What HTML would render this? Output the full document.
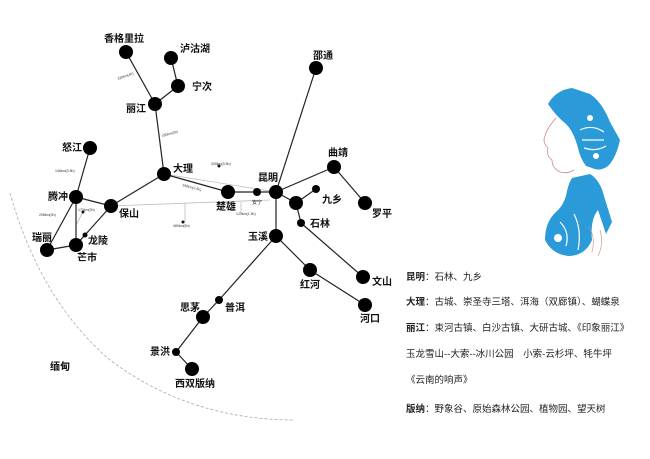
<!DOCTYPE html>
<html><head><meta charset="utf-8"><style>
html,body{margin:0;padding:0;background:#fff;}
svg{display:block;}
text{font-family:"Liberation Sans","Noto Sans CJK SC",sans-serif;}
.l{font-size:10px;fill:#111;font-weight:bold;}
.s{font-size:3.5px;fill:#333;}
.t{font-size:9.5px;fill:#222;}
</style></head><body>
<svg width="650" height="459" viewBox="0 0 650 459" xmlns="http://www.w3.org/2000/svg">
<rect width="650" height="459" fill="#fff"/>
<path d="M10,193 Q40,300 110,360 Q190,420 295,420" fill="none" stroke="#aaa" stroke-width="0.8" stroke-dasharray="3,2"/>
<g stroke="#bbb" stroke-width="0.8" fill="none">
<line x1="164" y1="174" x2="276" y2="192"/>
<line x1="111" y1="206" x2="270" y2="200"/>
<line x1="185" y1="203" x2="185" y2="222"/>
<line x1="241" y1="202" x2="241" y2="213"/>
<line x1="76" y1="225" x2="83" y2="212"/>
</g>
<g fill="#111">
<circle cx="219" cy="166" r="1.5"/><circle cx="183" cy="222" r="1.5"/><circle cx="83" cy="212" r="1.5"/>
</g>
<g stroke="#222" stroke-width="1.2" fill="none">
<line x1="126" y1="52" x2="155" y2="104"/>
<line x1="155" y1="104" x2="178" y2="86"/>
<line x1="178" y1="86" x2="171" y2="58"/>
<line x1="155" y1="104" x2="164" y2="174"/>
<line x1="164" y1="174" x2="111" y2="206"/>
<line x1="164" y1="174" x2="228" y2="192"/>
<line x1="228" y1="192" x2="276" y2="192"/>
<line x1="276" y1="192" x2="316" y2="68"/>
<line x1="276" y1="192" x2="334" y2="167"/>
<line x1="334" y1="167" x2="365" y2="203"/>
<line x1="276" y1="192" x2="296" y2="203"/>
<line x1="296" y1="203" x2="316" y2="189"/>
<line x1="296" y1="203" x2="301" y2="223"/>
<line x1="301" y1="223" x2="363" y2="277"/>
<line x1="276" y1="192" x2="276" y2="236"/>
<line x1="276" y1="236" x2="310" y2="270"/>
<line x1="310" y1="270" x2="365" y2="305"/>
<line x1="276" y1="236" x2="219" y2="300"/>
<line x1="219" y1="300" x2="203" y2="317"/>
<line x1="203" y1="317" x2="176" y2="352"/>
<line x1="176" y1="352" x2="192" y2="369"/>
<line x1="90" y1="148" x2="76" y2="197"/>
<line x1="76" y1="197" x2="111" y2="206"/>
<line x1="76" y1="197" x2="47" y2="250"/>
<line x1="76" y1="197" x2="76" y2="245"/>
<line x1="111" y1="206" x2="85" y2="235"/>
<line x1="85" y1="235" x2="76" y2="245"/>
<line x1="47" y1="250" x2="76" y2="245"/>
</g>
<g fill="#000">
<circle cx="126" cy="52" r="7"/><circle cx="171" cy="58" r="7"/><circle cx="178" cy="86" r="7"/>
<circle cx="155" cy="104" r="7"/><circle cx="316" cy="68" r="7"/><circle cx="90" cy="148" r="7"/>
<circle cx="164" cy="174" r="7"/><circle cx="334" cy="167" r="7"/><circle cx="276" cy="192" r="7"/>
<circle cx="228" cy="192" r="7"/><circle cx="257" cy="192" r="4"/><circle cx="316" cy="189" r="4"/>
<circle cx="296" cy="203" r="7"/><circle cx="365" cy="203" r="7"/><circle cx="301" cy="223" r="4"/>
<circle cx="76" cy="197" r="7"/><circle cx="111" cy="206" r="7"/><circle cx="47" cy="250" r="7"/>
<circle cx="76" cy="245" r="7"/><circle cx="85" cy="235" r="2.5"/>
<circle cx="276" cy="236" r="7"/><circle cx="310" cy="270" r="7"/><circle cx="363" cy="277" r="7"/>
<circle cx="365" cy="305" r="7"/><circle cx="219" cy="300" r="4"/><circle cx="203" cy="317" r="7"/>
<circle cx="176" cy="352" r="4"/><circle cx="192" cy="369" r="7"/>
</g>
<g class="l">
<text x="104" y="42">香格里拉</text><text x="180" y="52">泸沽湖</text><text x="192" y="90">宁次</text>
<text x="126" y="112">丽江</text><text x="313" y="59">邵通</text><text x="62" y="151">怒江</text>
<text x="173" y="172">大理</text><text x="328" y="156">曲靖</text><text x="258" y="181">昆明</text>
<text x="216" y="210">楚雄</text><text x="322" y="203">九乡</text><text x="372" y="217">罗平</text>
<text x="310" y="227">石林</text><text x="48" y="200">腾冲</text><text x="119" y="217">保山</text>
<text x="32" y="241">瑞丽</text><text x="88" y="244">龙陵</text><text x="77" y="261">芒市</text>
<text x="248" y="240">玉溪</text><text x="300" y="288">红河</text><text x="372" y="285">文山</text>
<text x="360" y="322">河口</text><text x="180" y="311">思茅</text><text x="225" y="311">普洱</text>
<text x="150" y="355">景洪</text><text x="175" y="387">西双版纳</text><text x="50" y="370">缅甸</text>
</g>
<text x="252" y="204" style="font-size:5px;fill:#111">安宁</text>
<g class="s">
<text x="118" y="80" transform="rotate(-20 118 80)">320km(4h)</text>
<text x="162" y="137" transform="rotate(-15 162 137)">180km(3h)</text>
<text x="211" y="165">300km(3.5h)</text>
<text x="258" y="181">165km(2.5h)</text>
<text x="182" y="186" transform="rotate(15 182 186)">190km(2.5h)</text>
<text x="236" y="215">120km(1.5h)</text>
<text x="173" y="227">480km(6h)</text>
<text x="55" y="172">146km(3.5h)</text>
<text x="39" y="216">208km(3h)</text>
<text x="78" y="211">170km(3h)</text>
</g>
<!-- woman illustration (approx) -->
<g fill="#2a9ad8">
<path d="M548,104 Q556,90 572,88 L590,94 Q602,102 610,122 L620,140 Q616,158 608,166 Q600,172 592,168 L586,166 Q580,158 578,148 Q574,132 566,124 Q556,116 548,104Z"/>
<path d="M572,178 L590,174 Q600,180 604,196 L612,222 L606,234 L598,210 Q590,220 592,240 Q585,256 568,256 Q552,254 545,240 Q545,222 556,212 Q563,206 566,196 Q568,184 572,178Z"/>
</g>
<g fill="none" stroke="#fff" stroke-width="1.2">
<path d="M580,130 Q592,124 604,132"/><path d="M582,140 L604,140"/><path d="M584,148 Q596,152 606,146"/>
<path d="M560,222 Q570,232 566,246"/><path d="M574,214 Q582,230 578,250"/>
</g>
<g fill="#fff"><circle cx="590" cy="118" r="3"/><circle cx="596" cy="156" r="3"/><circle cx="558" cy="238" r="4"/></g>
<path d="M556,118 Q547,128 545,136 Q542,142 548,148 Q546,156 552,160 Q552,168 560,172 Q568,174 574,170" fill="none" stroke="#c88" stroke-width="0.8"/>
<path d="M588,226 Q596,236 592,252 M600,230 Q604,244 598,256" fill="none" stroke="#c88" stroke-width="0.6"/>
<g class="t">
<text x="406" y="280"><tspan font-weight="bold">昆明</tspan>：石林、九乡</text>
<text x="406" y="305"><tspan font-weight="bold">大理</tspan>：古城、崇圣寺三塔、洱海（双廊镇）、蝴蝶泉</text>
<text x="406" y="331"><tspan font-weight="bold">丽江</tspan>：束河古镇、白沙古镇、大研古城、《印象丽江》</text>
<text x="406" y="357">玉龙雪山--大索--冰川公园　小索-云杉坪、牦牛坪</text>
<text x="406" y="383">《云南的响声》</text>
<text x="406" y="412"><tspan font-weight="bold">版纳</tspan>：野象谷、原始森林公园、植物园、望天树</text>
</g>
</svg>
</body></html>
